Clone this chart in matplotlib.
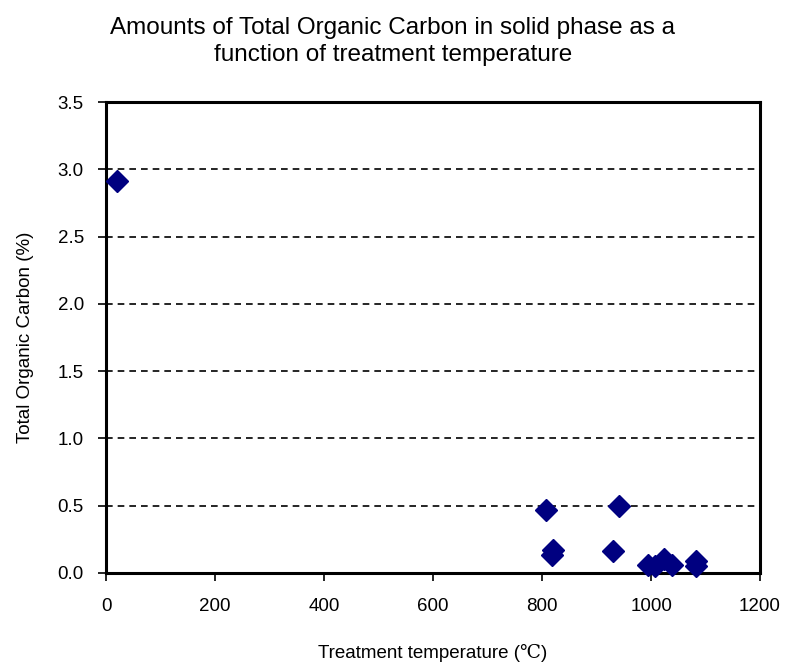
import matplotlib.pyplot as plt

plt.rcParams['font.family'] = ['Liberation Sans', 'DejaVu Serif']

temperature = [20, 807, 941, 820, 818, 930, 994, 1007, 1024, 1038, 1083, 1083]
toc = [2.91, 0.47, 0.50, 0.17, 0.13, 0.16, 0.06, 0.05, 0.10, 0.06, 0.09, 0.05]

fig = plt.figure(figsize=(7.86, 6.63), dpi=100)
ax = fig.add_axes([0.135, 0.136, 0.832, 0.710])

ax.plot(temperature, toc, linestyle='none', marker='D', markersize=11.5,
        color='#000080', zorder=3, clip_on=False)

ax.set_xlim(0, 1200)
ax.set_ylim(0, 3.5)
ax.set_xticks(range(0, 1201, 200))
ax.set_yticks([i * 0.5 for i in range(8)])
ax.set_yticklabels([f'{i * 0.5:.1f}' for i in range(8)])
ax.yaxis.grid(True, linestyle=(0, (4, 3)), color='black', linewidth=1.2)
ax.set_axisbelow(True)

for s in ax.spines.values():
    s.set_linewidth(2.2)
ax.tick_params(direction='out', length=6, width=1.2, labelsize=13.5)
ax.tick_params(axis='x', pad=12)
ax.tick_params(axis='y', pad=10)

ax.set_xlabel('Treatment temperature (℃)', fontsize=13.5, labelpad=21)
ax.set_ylabel('Total Organic Carbon (%)', fontsize=13.5, labelpad=17)
fig.suptitle('Amounts of Total Organic Carbon in solid phase as a\nfunction of treatment temperature',
             x=0.5, y=0.975, fontsize=17.5, va='top', linespacing=1.3)

fig.savefig('out.png', dpi=100)
